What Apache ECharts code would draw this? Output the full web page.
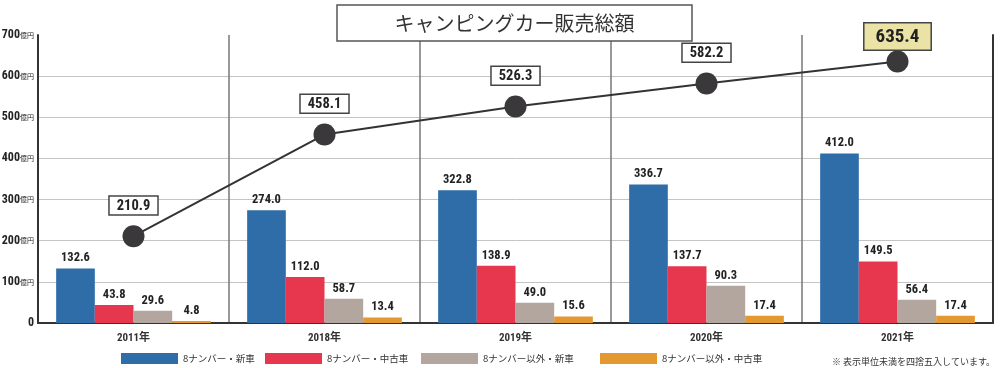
<!DOCTYPE html>
<html><head><meta charset="utf-8">
<script src="https://cdn.jsdelivr.net/npm/echarts@6/dist/echarts.min.js"></script>
<style>html,body{margin:0;padding:0;background:#fff}#c{width:1000px;height:368px}</style>
</head><body><div id="c"></div>
<script>
const categories = ['2011年','2018年','2019年','2020年','2021年'];
const seriesNames = ['8ナンバー・新車','8ナンバー・中古車','8ナンバー以外・新車','8ナンバー以外・中古車'];
const newCar8 = [132.6, 274.0, 322.8, 336.7, 412.0];
const usedCar8 = [43.8, 112.0, 138.9, 137.7, 149.5];
const newCarOther = [29.6, 58.7, 49.0, 90.3, 56.4];
const usedCarOther = [4.8, 13.4, 15.6, 17.4, 17.4];
const totals = [210.9, 458.1, 526.3, 582.2, 635.4];
const yTicks = [0,100,200,300,400,500,600,700];
const titleText = 'キャンピングカー販売総額';
const noteText = '※ 表示単位未満を四捨五入しています。';

const colors = ['#2f6da8','#e6374f','#b2a69f','#e3992f'];
const NUM = "'Roboto Condensed','Noto Sans CJK JP',sans-serif";
const JP = "'Noto Sans CJK JP',sans-serif";
const barData = [newCar8, usedCar8, newCarOther, usedCarOther];

const chart = echarts.init(document.getElementById('c'));
const barSeries = barData.map((d,i)=>({
  name: seriesNames[i], type:'bar', data:d, barGap:'0%', barCategoryGap:'19%',
  itemStyle:{color:colors[i]},
  label:{show:true, position:'top', distance:4, formatter:p=>p.value.toFixed(1),
    fontFamily:NUM, fontWeight:'bold', fontSize:12.5, color:'#222'}
}));
const legendLefts = [121,265,421,600];
const legends = seriesNames.map((n,i)=>({
  data:[n], left:legendLefts[i], top:353, padding:0, itemWidth:57, itemHeight:11, icon:'rect', itemGap:6,
  textStyle:{fontFamily:JP, fontSize:9.5, color:'#333'}, selectedMode:false
}));
const lineData = totals.map((v,i)=> i===totals.length-1 ? {
  value:v, label:{backgroundColor:'#ebe3a6', fontSize:19, padding:[4,11,3,11], distance:1}
} : v);

chart.setOption({
  animation:false,
  grid:{left:38, right:7, top:35, bottom:45, outerBoundsMode:'none', containLabel:false},
  legend: legends,
  xAxis:{type:'category', data:categories, boundaryGap:true,
    axisLine:{lineStyle:{color:'#333', width:2}}, axisTick:{show:false},
    splitLine:{show:true, lineStyle:{color:'#777', width:1.5}},
    axisLabel:{fontFamily:NUM, fontSize:11, fontWeight:'bold', color:'#333', margin:10}},
  yAxis:[{type:'value', min:0, max:700, interval:100,
    axisLine:{show:true, lineStyle:{color:'#333', width:2}}, axisTick:{show:false},
    splitLine:{show:true, showMaxLine:false, lineStyle:{color:'#c4c4c4', width:1}},
    axisLabel:{margin:4, formatter:v=> v===0 ? '{n|0}' : '{n|'+v+'}{u|億円}',
      rich:{n:{fontFamily:NUM, fontWeight:'bold', fontSize:12, color:'#222'},
            u:{fontFamily:JP, fontSize:7, color:'#222'}}}},
   {type:'value', position:'right', min:0, max:700, interval:100,
    axisLine:{show:true, lineStyle:{color:'#333', width:2}}, axisTick:{show:false},
    axisLabel:{show:false}, splitLine:{show:false}}],
  series:[...barSeries, {
    name:'合計', type:'line', data:lineData, symbol:'circle', symbolSize:22, z:5,
    lineStyle:{color:'#333', width:2}, itemStyle:{color:'#3a383a'},
    label:{show:true, position:'top', distance:11, formatter:p=>p.value.toFixed(1),
      fontFamily:NUM, fontWeight:'bold', fontSize:14.5, color:'#222',
      backgroundColor:'#fff', borderColor:'#444', borderWidth:1.5, padding:[2,7,1,7]}
  }],
  graphic:[
    {type:'rect', z:100, shape:{x:337, y:5, width:355, height:36},
     style:{fill:'#fff', stroke:'#555', lineWidth:1.5}},
    {type:'text', z:101, x:514.5, y:23, style:{text:titleText, fontFamily:JP, fontSize:20,
      fill:'#333', align:'center', verticalAlign:'middle'}},
    {type:'text', z:101, x:995, y:362, style:{text:noteText, fontFamily:JP, fontSize:9,
      fill:'#333', align:'right', verticalAlign:'middle'}}
  ]
});
</script></body></html>
